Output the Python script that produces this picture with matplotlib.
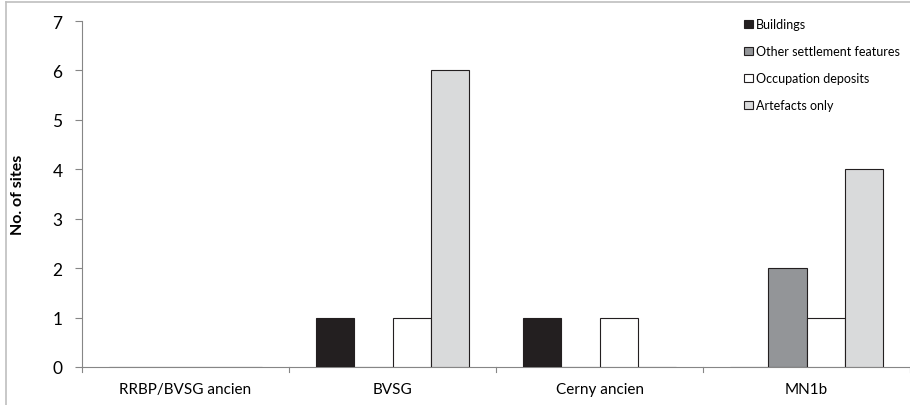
import matplotlib
matplotlib.use("Agg")
import matplotlib.pyplot as plt
import numpy as np
from matplotlib.lines import Line2D

categories = ["RRBP/BVSG ancien", "BVSG", "Cerny ancien", "MN1b"]
series_names = ["Buildings", "Other settlement features", "Occupation deposits", "Artefacts only"]
buildings = [0, 1, 1, 0]
other_features = [0, 0, 0, 2]
occupation = [0, 1, 1, 1]
artefacts = [0, 6, 0, 4]
series_values = [buildings, other_features, occupation, artefacts]
colors = ["#231f20", "#939598", "#ffffff", "#d9dadb"]
yticks = [0, 1, 2, 3, 4, 5, 6, 7]

plt.rcParams['font.family'] = ['Lato', 'DejaVu Sans']

fig = plt.figure(figsize=(9.10, 4.06), dpi=100)
ax_left, ax_right, ax_top, ax_bot = 82, 910, 22, 368
ax = fig.add_axes([ax_left/910, 1 - ax_bot/406, (ax_right - ax_left)/910, (ax_bot - ax_top)/406])

x = np.arange(len(categories))
w = 0.184
for i, (vals, col) in enumerate(zip(series_values, colors)):
    offs = (i - 1.5) * w
    ax.bar(x + offs, vals, w, color=col, edgecolor="#231f20", linewidth=0.8,
           label=series_names[i], zorder=3)

ax.set_xlim(-0.5, len(categories) - 0.5)
ax.set_ylim(0, 7)
ax.set_yticks(yticks)
ax.set_yticklabels([str(t) for t in yticks], fontsize=12.5)
ax.set_xticks(x)
ax.set_xticklabels(categories, fontsize=11)
ax.tick_params(axis='x', length=0, pad=11)
ax.tick_params(axis='y', length=5, color="#868686", pad=9)
for b in np.arange(-0.5, len(categories), 1.0):
    ax.plot([b, b], [0, -0.1], color="#868686", lw=0.8, clip_on=False)
for s in ["top", "right"]:
    ax.spines[s].set_visible(False)
for s in ["left", "bottom"]:
    ax.spines[s].set_color("#868686")
    ax.spines[s].set_linewidth(0.8)

ax.set_ylabel("No. of sites", fontsize=11.5, fontweight="bold", labelpad=20)

handles = [plt.Rectangle((0, 0), 1, 1, facecolor=c, edgecolor="#231f20", linewidth=0.8) for c in colors]
leg = ax.legend(handles, series_names, loc="upper left",
                bbox_to_anchor=((733 - ax_left)/(ax_right - ax_left), 1.04),
                bbox_transform=ax.transAxes, frameon=False, fontsize=9,
                handlelength=0.7, handleheight=0.7, handletextpad=0.25, labelspacing=1.2)

# figure border lines
fig.add_artist(Line2D([6/910, 6/910], [0, 1 - 3/406], color="#bfbfbf", lw=1.2, transform=fig.transFigure))
fig.add_artist(Line2D([6/910, 1], [1 - 3/406, 1 - 3/406], color="#bfbfbf", lw=1.2, transform=fig.transFigure))

fig.savefig("out.png", dpi=100)
